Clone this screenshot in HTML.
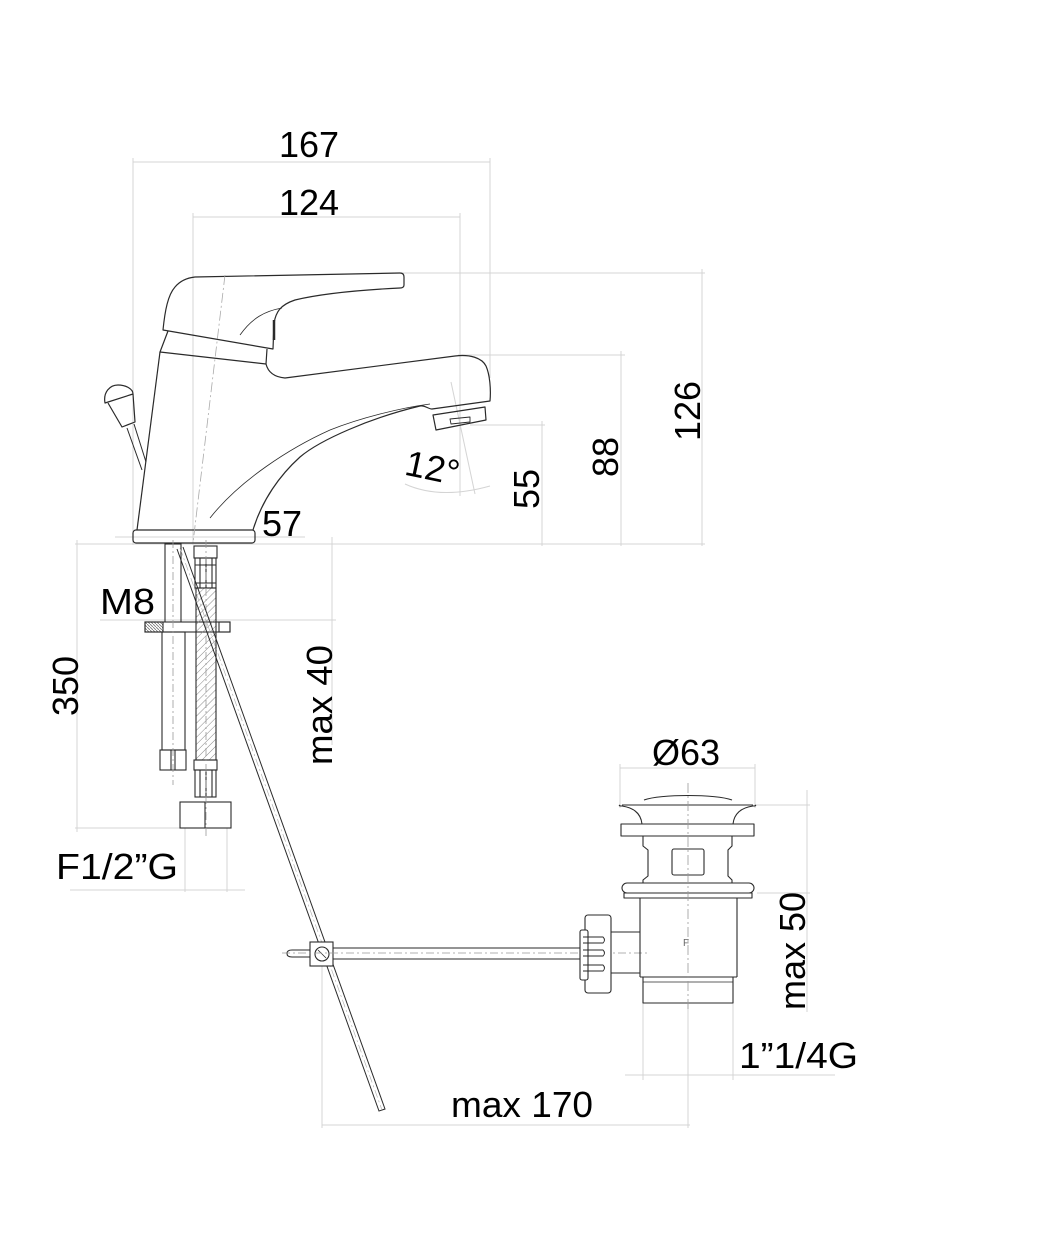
<!DOCTYPE html>
<html><head><meta charset="utf-8"><style>
html,body{margin:0;padding:0;background:#fff;}
svg{display:block;}
text{font-family:"Liberation Sans",Arial,sans-serif;fill:#000;}
</style></head><body>
<svg width="1055" height="1249" viewBox="0 0 1055 1249" xmlns="http://www.w3.org/2000/svg">
<defs>
<pattern id="hatch" width="5" height="5" patternUnits="userSpaceOnUse" patternTransform="rotate(45)">
<line x1="0" y1="0" x2="0" y2="5" stroke="#888" stroke-width="1"/>
</pattern>
<pattern id="hatch2" width="3" height="3" patternUnits="userSpaceOnUse">
<line x1="0" y1="0" x2="3" y2="3" stroke="#777" stroke-width="0.8"/>
</pattern>
</defs>
<rect width="1055" height="1249" fill="#fff"/>

<!-- Dimension / extension lines -->
<g stroke="#d4d4d4" stroke-width="1" fill="none">
<line x1="133" y1="162" x2="490" y2="162"/>
<line x1="133" y1="158" x2="133" y2="545"/>
<line x1="490" y1="158" x2="490" y2="378"/>
<line x1="193" y1="217" x2="460" y2="217"/>
<line x1="193" y1="213" x2="193" y2="545"/>
<line x1="460" y1="213" x2="460" y2="496"/>
<line x1="400" y1="273" x2="705" y2="273"/>
<line x1="702" y1="269" x2="702" y2="546"/>
<line x1="458" y1="355" x2="625" y2="355"/>
<line x1="621" y1="351" x2="621" y2="546"/>
<line x1="470" y1="425" x2="545" y2="425"/>
<line x1="542" y1="421" x2="542" y2="546"/>
<line x1="75" y1="544" x2="705" y2="544"/>
<line x1="115" y1="537" x2="305" y2="537"/>
<line x1="77" y1="540" x2="77" y2="832"/>
<line x1="75" y1="828" x2="185" y2="828"/>
<line x1="100" y1="620" x2="336" y2="620"/>
<line x1="332" y1="537" x2="332" y2="745"/>
<line x1="185" y1="828" x2="185" y2="892"/>
<line x1="227" y1="828" x2="227" y2="892"/>
<line x1="70" y1="890" x2="245" y2="890"/>
<line x1="620" y1="768" x2="755" y2="768"/>
<line x1="620" y1="764" x2="620" y2="808"/>
<line x1="755" y1="764" x2="755" y2="808"/>
<line x1="755" y1="805" x2="810" y2="805"/>
<line x1="757" y1="893" x2="810" y2="893"/>
<line x1="807" y1="790" x2="807" y2="1012"/>
<line x1="625" y1="1075" x2="835" y2="1075"/>
<line x1="643" y1="1000" x2="643" y2="1080"/>
<line x1="733" y1="1000" x2="733" y2="1080"/>
<line x1="322" y1="966" x2="322" y2="1128"/>
<line x1="688" y1="1003" x2="688" y2="1128"/>
<line x1="322" y1="1125" x2="690" y2="1125"/>
<line x1="451" y1="382" x2="475" y2="494"/>
<path d="M405,484 Q440,500 490,486"/>
</g>

<!-- Faucet -->
<g stroke="#2a2a2a" stroke-width="1.2" fill="none" stroke-linejoin="round">
<path d="M163,330 C165,310 168,295 175,287 C180,281 186,278 195,277 L400,273 Q404,273 404,277 L404,285 Q404,288 400,288 C360,290 320,294 295,300 C280,305 276,312 274,323 L273,349 L163,330 Z"/>
<path d="M240,335 C252,318 265,311 282,308" stroke-width="0.8"/>
<line x1="274" y1="320" x2="274" y2="340" stroke-width="2.5"/>
<path d="M168,331 L160,352 L266,364 L267,349"/>
<path d="M160,352 L137,530"/>
<path d="M266,364 C268,372 274,377 285,378 L455,356 C470,354 482,358 486,366 C490,375 491,390 490,401 L432,409 C428,409 425,405 420,406 C370,418 320,440 300,457 C280,475 262,500 253,530"/>
<path d="M433,415 L485,407 L486,420 L436,430 Z"/>
<path d="M450,419 L470,417 L470,422 L451,424 Z" stroke-width="0.9"/>
<path d="M430,404 C400,408 360,418 330,430 C290,448 240,480 210,518" stroke-width="0.8"/>
<rect x="133" y="530" width="122" height="13" rx="3"/>
<path d="M105,403 C103,392 110,385 118,385 C126,385 133,389 133,394 Z"/>
<path d="M108,403 L122,427 L135,422 L133,394"/>
<path d="M127,428 L142,470 M134,424 L146,462" stroke-width="1"/>
</g>
<path d="M225,275 L193,543" stroke="#aaa" stroke-width="0.8" stroke-dasharray="10 3 2 3" fill="none"/>

<!-- Under base components -->
<g stroke="#2a2a2a" stroke-width="1.1" fill="none">
<rect x="165" y="544" width="16" height="86"/>
<rect x="145" y="622" width="85" height="10" fill="#fff"/>
<rect x="145" y="622" width="18" height="10" fill="url(#hatch2)"/>
<rect x="219" y="622" width="11" height="10"/>
<rect x="162" y="632" width="23" height="118"/>
<rect x="160" y="750" width="26" height="20"/>
<line x1="171" y1="750" x2="171" y2="770"/>
<line x1="175" y1="750" x2="175" y2="770"/>
<rect x="194" y="546" width="23" height="12"/>
<rect x="195" y="558" width="21" height="30"/>
<line x1="200" y1="558" x2="200" y2="588"/>
<line x1="206" y1="558" x2="206" y2="588"/>
<line x1="212" y1="558" x2="212" y2="588"/>
<line x1="195" y1="565" x2="216" y2="565"/>
<line x1="195" y1="583" x2="216" y2="583"/>
<rect x="196" y="588" width="20" height="172" fill="url(#hatch)"/>
<rect x="194" y="760" width="23" height="10"/>
<rect x="195" y="770" width="21" height="27"/>
<line x1="200" y1="770" x2="200" y2="797"/>
<line x1="206" y1="770" x2="206" y2="797"/>
<line x1="212" y1="770" x2="212" y2="797"/>
<rect x="180" y="802" width="51" height="26"/>
<line x1="205" y1="802" x2="205" y2="828"/>
</g>
<line x1="173" y1="540" x2="173" y2="785" stroke="#999" stroke-width="0.8" stroke-dasharray="8 3 2 3"/>
<line x1="206" y1="540" x2="206" y2="838" stroke="#999" stroke-width="0.8" stroke-dasharray="8 3 2 3"/>

<!-- Lift rod -->
<g stroke="#2a2a2a" stroke-width="1" fill="none">
<path d="M177,549 L379,1111 L385,1109 L183,547"/>
</g>
<line x1="180" y1="548" x2="382" y2="1110" stroke="#aaa" stroke-width="0.6" stroke-dasharray="8 3 2 3"/>

<!-- Horizontal drain rod -->
<g stroke="#2a2a2a" stroke-width="1.1" fill="none">
<path d="M310,950 L292,950 Q287,950 287,953.5 Q287,957 292,957 L310,957"/>
<line x1="333" y1="948" x2="582" y2="948"/>
<line x1="333" y1="959" x2="582" y2="959"/>
<rect x="310" y="942" width="23" height="24" fill="#fff"/>
<circle cx="322" cy="954" r="7"/>
<line x1="318" y1="950" x2="326" y2="958" stroke-width="0.8"/>
</g>
<line x1="282" y1="953" x2="650" y2="953" stroke="#999" stroke-width="0.7" stroke-dasharray="8 3 2 3"/>

<!-- Drain -->
<g stroke="#2a2a2a" stroke-width="1.1" fill="none" stroke-linejoin="round">
<rect x="585" y="915" width="26" height="78" rx="3" fill="#fff"/>
<rect x="580" y="930" width="8" height="50" rx="2" fill="#fff"/>
<path d="M583,937 L603,937 Q606,940 603,943 L583,943 M583,950 L603,950 Q606,953 603,956 L583,956 M583,965 L603,965 Q606,968 603,971 L583,971" stroke-width="0.9"/>
<path d="M611,932 L640,932 M611,973 L640,973"/>
<path d="M644,800 C660,794 716,794 732,800"/>
<path d="M622,805 L753,805"/>
<path d="M620,805 Q618,806 622,806 C636,808 641,815 642,824"/>
<path d="M755,805 Q757,806 753,806 C739,808 734,815 733,824"/>
<rect x="621" y="824" width="133" height="12"/>
<path d="M643,836 L643,846 L648,850 L648,876 L643,880 L643,883"/>
<path d="M732,836 L732,846 L728,850 L728,876 L732,880 L732,883"/>
<rect x="672" y="849" width="32" height="26" rx="2"/>
<rect x="622" y="883" width="132" height="10" rx="5"/>
<rect x="624" y="893" width="128" height="5"/>
<path d="M640,898 L640,977 M737,898 L737,977"/>
<path d="M640,977 L737,977"/>
<path d="M643,977 L643,1003 L733,1003 L733,977"/>
<line x1="643" y1="982" x2="733" y2="982" stroke-width="0.8"/>
</g>
<line x1="688" y1="783" x2="688" y2="1010" stroke="#999" stroke-width="0.8" stroke-dasharray="10 3 2 3"/>
<text x="686" y="946" font-size="10" text-anchor="middle" style="fill:#666">F</text>

<!-- Labels -->
<g font-size="36">
<text x="309" y="157" text-anchor="middle">167</text>
<text x="309" y="215" text-anchor="middle">124</text>
<text x="262" y="536">57</text>
<text x="100" y="614" textLength="55" lengthAdjust="spacingAndGlyphs">M8</text>
<text transform="translate(78,686) rotate(-90)" text-anchor="middle">350</text>
<text transform="translate(332,705) rotate(-90)" text-anchor="middle" textLength="120" lengthAdjust="spacingAndGlyphs">max 40</text>
<text transform="translate(700,411) rotate(-90)" text-anchor="middle">126</text>
<text transform="translate(618,457) rotate(-90)" text-anchor="middle">88</text>
<text transform="translate(539,489) rotate(-90)" text-anchor="middle">55</text>
<text transform="translate(430,480) rotate(12)" text-anchor="middle">12°</text>
<text x="56" y="879" textLength="122" lengthAdjust="spacingAndGlyphs">F1/2”G</text>
<text x="686" y="765" text-anchor="middle">Ø63</text>
<text transform="translate(805,951) rotate(-90)" text-anchor="middle" textLength="118" lengthAdjust="spacingAndGlyphs">max 50</text>
<text x="739" y="1068" textLength="119" lengthAdjust="spacingAndGlyphs">1”1/4G</text>
<text x="451" y="1117" textLength="142" lengthAdjust="spacingAndGlyphs">max 170</text>
</g>
</svg>
</body></html>
